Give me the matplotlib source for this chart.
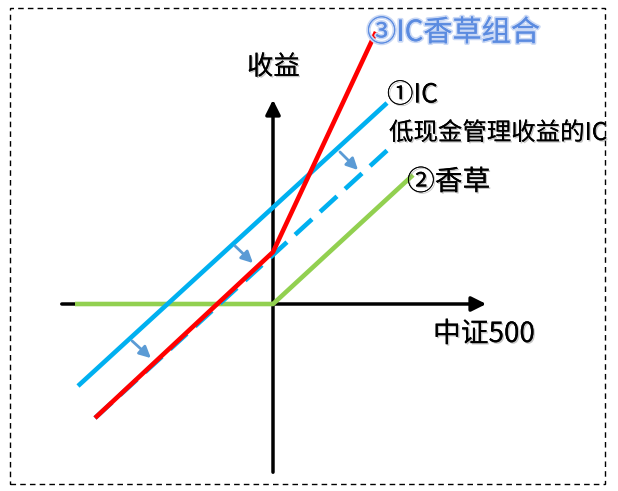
import matplotlib
matplotlib.use('Agg')
import matplotlib.pyplot as plt
import matplotlib.patheffects as pe
from matplotlib.patches import Rectangle

plt.rcParams['font.family'] = ['Noto Sans CJK SC', 'DejaVu Sans']

# payoff lines, origin at the axis crossing (units ~ pixels)
ic_x = [-195, 114]
ic_y = [-82, 201]
ic_low_x = [-178, 120]
ic_low_y = [-114, 159]
xiangcao_x = [-198, 0, 140]
xiangcao_y = [0, 0, 129]
combo_x = [-178, 0, 103]
combo_y = [-114, 52, 272]

# shift arrows (start, end)
shift_start = [(-40, 60), (-143, -35), (65, 154)]
shift_end = [(-18, 39), (-120, -56), (87, 132)]

# axes extents
xaxis = (-214, 216)
yaxis = (-171, 207)

labels = [
    ('③IC香草组合', 94, 271, 21, '#5B8BE0'),
    ('①IC', 114, 209, 19, 'black'),
    ('低现金管理收益的IC', 116, 171, 17.6, 'black'),
    ('②香草', 134, 122, 20, 'black'),
    ('收益', -26, 237, 19, 'black'),
    ('中证500', 160, -30, 20, 'black'),
]

fig = plt.figure(figsize=(6.18, 4.91), dpi=100)
ax = fig.add_axes([0, 0, 1, 1])
ax.set_xlim(-273, 345)
ax.set_ylim(-187, 304)
ax.axis('off')

# dashed frame
ax.add_patch(Rectangle((-263, -180), 595, 476, fill=False, ec='black',
                       lw=1, ls=(0, (4, 3))))

# axes
ax.annotate('', xy=(xaxis[1], 0), xytext=(xaxis[0], 0),
            arrowprops=dict(arrowstyle='-|>', mutation_scale=22, lw=2.5, color='black'))
ax.annotate('', xy=(0, yaxis[1]), xytext=(0, yaxis[0]),
            arrowprops=dict(arrowstyle='-|>', mutation_scale=22, lw=2.5, color='black'))

ax.plot(xiangcao_x, xiangcao_y, color='#92D050', lw=3.3, solid_capstyle='butt', zorder=3)
ax.plot(ic_x, ic_y, color='#00B0F0', lw=3.3, solid_capstyle='butt', zorder=3)
ax.plot(ic_low_x, ic_low_y, color='#00B0F0', lw=3.3, ls=(0, (5, 2.4)), zorder=3)
ax.plot(combo_x, combo_y, color='#FF0000', lw=3.3, solid_capstyle='butt', zorder=4)

for s, e in zip(shift_start, shift_end):
    ax.annotate('', xy=e, xytext=s,
                arrowprops=dict(arrowstyle='-|>', mutation_scale=17, lw=2, color='#5B9BD5'),
                zorder=5)

shadow = [pe.withSimplePatchShadow(offset=(1, -1), shadow_rgbFace='gray', alpha=0.45),
          pe.Normal()]
for txt, x, y, size, col in labels:
    effects = shadow
    if col != 'black':
        effects = [pe.withStroke(linewidth=2.5, foreground='#C9D8F5'), pe.Normal()]
    ax.text(x, y, txt, fontsize=size, color=col, ha='left', va='center',
            path_effects=effects, zorder=6)

fig.savefig('out.png', dpi=100)
